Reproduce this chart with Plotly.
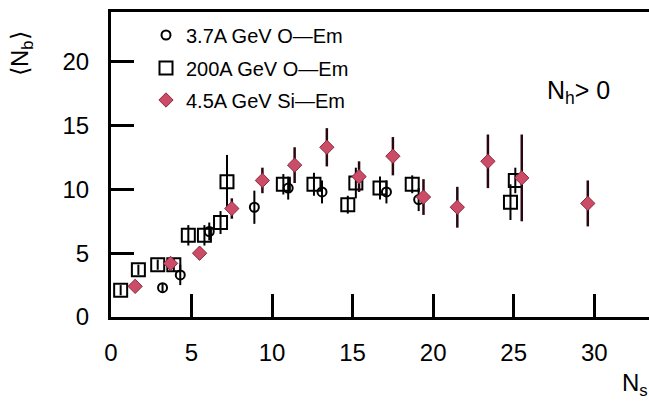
import plotly.graph_objects as go

# 3.7A GeV O-Em (open circles)
o37_x = [3.2, 4.3, 6.1, 8.9, 11.0, 13.1, 17.1, 19.1]
o37_y = [2.3, 3.3, 6.7, 8.6, 10.1, 9.8, 9.8, 9.2]
o37_err = [0.3, 0.8, 0.7, 1.3, 0.9, 0.9, 0.9, 0.9]

# 200A GeV O-Em (open squares)
o200_x = [0.6, 1.7, 2.9, 3.9, 4.8, 5.8, 6.8, 7.2, 10.7, 12.6, 14.7, 15.2, 16.7, 18.7, 24.8, 25.1]
o200_y = [2.1, 3.7, 4.1, 4.1, 6.4, 6.4, 7.4, 10.6, 10.4, 10.4, 8.8, 10.5, 10.1, 10.4, 9.0, 10.7]
o200_err = [0.4, 0.4, 0.4, 0.5, 0.8, 0.8, 0.9, 2.1, 0.8, 0.9, 0.7, 1.2, 0.9, 0.7, 1.4, 1.0]

# 4.5A GeV Si-Em (filled pink)
si_x = [1.5, 3.7, 5.5, 7.5, 9.4, 11.4, 13.4, 15.4, 17.5, 19.4, 21.5, 23.4, 25.5, 29.6]
si_y = [2.4, 4.2, 5.0, 8.5, 10.7, 11.9, 13.3, 11.0, 12.6, 9.4, 8.6, 12.2, 10.9, 8.9]
si_err = [0.3, 0.4, 0.5, 0.8, 1.0, 1.4, 1.5, 1.2, 1.5, 1.4, 1.6, 2.1, 3.4, 1.8]

x_ticks = [0, 5, 10, 15, 20, 25, 30]
y_ticks = [0, 5, 10, 15, 20]

W, H = 649, 408
L, R, T, B = 111, 0, 12, 91
pw, ph = W - L - R, H - T - B

def px(xp):
    return (xp - L) / pw

def py(yp):
    return (H - B - yp) / ph

FONT = "Liberation Sans"

fig = go.Figure()
fig.add_trace(go.Scatter(
    x=o37_x, y=o37_y, mode="markers", name="3.7A GeV O\u2014Em",
    marker=dict(symbol="circle-open", size=9, color="black", line=dict(width=2, color="black")),
    error_y=dict(type="data", array=o37_err, color="black", thickness=2, width=0),
    legend="legend", showlegend=True,
))
fig.add_trace(go.Scatter(
    x=o200_x, y=o200_y, mode="markers", name="200A GeV O\u2014Em",
    marker=dict(symbol="square-open", size=13, color="black", line=dict(width=2, color="black")),
    error_y=dict(type="data", array=o200_err, color="black", thickness=2, width=0),
    legend="legend2", showlegend=True,
))
fig.add_trace(go.Scatter(
    x=si_x, y=si_y, mode="markers", name="4.5A GeV Si\u2014Em",
    marker=dict(symbol="diamond", size=11, color="#cc4c68", line=dict(width=1, color="#8a2a3c")),
    error_y=dict(type="data", array=si_err, color="#2a0610", thickness=2.5, width=0),
    legend="legend3", showlegend=True,
))

leg_common = dict(font=dict(family=FONT, size=20, color="black"), bgcolor="rgba(0,0,0,0)",
                  xanchor="left", yanchor="middle", itemclick=False)
fig.update_layout(
    width=W, height=H,
    showlegend=True,
    margin=dict(l=L, r=R, t=T, b=B),
    paper_bgcolor="white", plot_bgcolor="white",
    font=dict(family=FONT, size=24, color="black"),
    legend=dict(x=px(146), y=py(35), **leg_common),
    legend2=dict(x=px(146), y=py(68), **leg_common),
    legend3=dict(x=px(146), y=py(100), **leg_common),
    xaxis=dict(range=[0, 33.4], tickvals=x_ticks, ticktext=[str(v) for v in x_ticks],
               ticks="inside", ticklen=23, tickwidth=2.5, tickcolor="black",
               showline=True, linewidth=3, linecolor="black", mirror=True,
               showgrid=False, zeroline=False, ticklabelstandoff=12,
               tickfont=dict(family=FONT, size=24)),
    yaxis=dict(range=[0, 23.9], tickvals=y_ticks, ticktext=[str(v) for v in y_ticks],
               ticks="inside", ticklen=23, tickwidth=2.5, tickcolor="black",
               showline=True, linewidth=3, linecolor="black", mirror=False,
               showgrid=False, zeroline=False, ticklabelstandoff=14,
               tickfont=dict(family=FONT, size=24)),
    annotations=[
        dict(text="N<sub>h</sub>> 0", x=px(545), y=py(92), xref="paper", yref="paper",
             xanchor="left", yanchor="middle", showarrow=False, font=dict(family=FONT, size=25)),
        dict(text="N<sub>s</sub>", x=px(620), y=py(385), xref="paper", yref="paper",
             xanchor="left", yanchor="middle", showarrow=False, font=dict(family=FONT, size=24)),
        dict(text="\u27e8N<sub>b</sub>\u27e9", x=px(22), y=py(54), xref="paper", yref="paper",
             xanchor="center", yanchor="middle", textangle=-90, showarrow=False,
             font=dict(family=FONT, size=24)),
    ],
)

fig.write_html("out.html")
